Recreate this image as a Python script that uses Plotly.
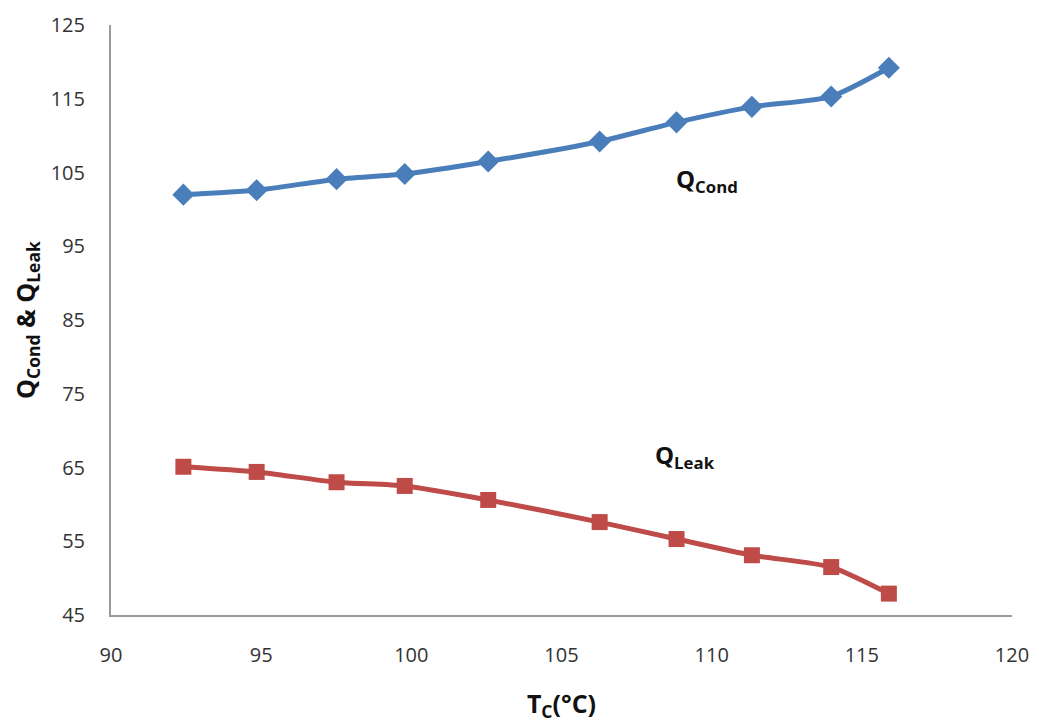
import plotly.graph_objects as go

tc = [92.41, 94.85, 97.51, 99.78, 102.56, 106.27, 108.83, 111.34, 113.98, 115.9]
q_cond = [102.0, 102.6, 104.1, 104.8, 106.5, 109.2, 111.8, 113.9, 115.3, 119.2]
q_leak = [65.1, 64.4, 63.0, 62.5, 60.6, 57.6, 55.3, 53.1, 51.5, 47.9]

x_ticks = [90, 95, 100, 105, 110, 115, 120]
y_ticks = [45, 55, 65, 75, 85, 95, 105, 115, 125]

blue = "#4a7ebb"
red = "#be4b48"

fig = go.Figure()
fig.add_trace(go.Scatter(x=tc, y=q_cond, mode="lines+markers", line=dict(color=blue, width=5, shape="spline", smoothing=0.6),
                         marker=dict(symbol="diamond", size=17, color=blue), showlegend=False))
fig.add_trace(go.Scatter(x=tc, y=q_leak, mode="lines+markers", line=dict(color=red, width=5, shape="spline", smoothing=0.6),
                         marker=dict(symbol="square", size=16, color=red), showlegend=False))

fig.add_annotation(x=109.85, y=104.0, text="<b>Q<sub>Cond</sub></b>", showarrow=False,
                   font=dict(family="Open Sans", size=24, color="#111"))
fig.add_annotation(x=109.11, y=66.6, text="<b>Q<sub>Leak</sub></b>", showarrow=False,
                   font=dict(family="Open Sans", size=24, color="#111"))

fig.update_layout(
    width=1039, height=728,
    margin=dict(l=103, r=35, t=17, b=121),
    plot_bgcolor="white", paper_bgcolor="white",
    font=dict(family="Open Sans", size=20, color="#333"),
)
fig.update_xaxes(range=[90, 120], tickvals=x_ticks, showgrid=False, zeroline=False, automargin=False,
                 showline=True, linecolor="#9a9a9a", linewidth=2, ticks="", ticklabelstandoff=21,
                 tickfont=dict(size=20, color="#333"),
                 title=dict(text="<b>T<sub>C</sub>(°C)</b>", font=dict(size=25, color="#111"), standoff=28))
fig.update_yaxes(range=[45, 125], tickvals=y_ticks, showgrid=False, zeroline=False, automargin=False,
                 showline=True, linecolor="#9a9a9a", linewidth=2, ticks="", ticklabelstandoff=20,
                 tickfont=dict(size=20, color="#333"),
                 title=dict(text="<b>Q<sub>Cond</sub> &amp; Q<sub>Leak</sub></b>", font=dict(size=25, color="#111"), standoff=22))

fig.write_html("out.html")
